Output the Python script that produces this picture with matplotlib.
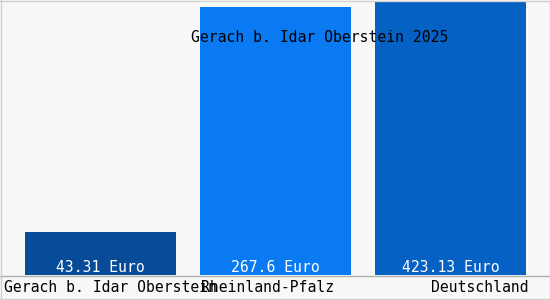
import matplotlib
matplotlib.use("Agg")
import matplotlib.pyplot as plt
import matplotlib.transforms as mtransforms

categories = ["Gerach b. Idar Oberstein", "Rheinland-Pfalz", "Deutschland"]
values = [43.31, 267.6, 423.13]
value_labels = ["43.31 Euro", "267.6 Euro", "423.13 Euro"]
title = "Gerach b. Idar Oberstein 2025"
colors = ["#084c99", "#0a7af2", "#0561c4"]

W, H = 550, 300
fig = plt.figure(figsize=(W / 100, H / 100), dpi=100)
bg = "#f8f8f8"
fig.patch.set_facecolor(bg)

ax = fig.add_axes([1 / W, 25 / H, 548 / W, 274 / H])
ax.set_facecolor(bg)
x = list(range(len(categories)))
ax.bar(x, values, width=151 / 175, color=colors, clip_on=True)
ax.set_xlim(-99.5 / 175, -99.5 / 175 + 548 / 175)
ax.set_ylim(0, 274)
ax.set_xticks([])
ax.set_yticks([])
for s in ax.spines.values():
    s.set_visible(False)

font = dict(family="DejaVu Sans Mono", fontsize=10.6)

# value labels inside bars near the bottom
trans = mtransforms.blended_transform_factory(ax.transData, fig.transFigure)
for xi, lab in zip(x, value_labels):
    ax.text(xi, (H - 268) / H, lab, transform=trans, ha="center", va="center",
            color="white", **font)

# baseline
fig.add_artist(plt.Line2D([0, 1], [(H - 275.5) / H] * 2, color="#b0b0b0", lw=1))
# borders
fig.add_artist(plt.Line2D([0, 1], [1 - 0.5 / H] * 2, color="#d0d0d0", lw=1))
fig.add_artist(plt.Line2D([0, 1], [1.5 / H] * 2, color="#d0d0d0", lw=1))
fig.add_artist(plt.Line2D([0.5 / W] * 2, [0, 1], color="#d0d0d0", lw=1))
fig.add_artist(plt.Line2D([1 - 0.5 / W] * 2, [0, 1], color="#d0d0d0", lw=1))

# category labels
ly = (H - 288) / H
fig.text(4 / W, ly, categories[0], ha="left", va="center", color="black", **font)
fig.text(201 / W, ly, categories[1], ha="left", va="center", color="black", **font)
fig.text(529 / W, ly, categories[2], ha="right", va="center", color="black", **font)

# title
fig.text(320 / W, (H - 38) / H, title, ha="center", va="center", color="black", **font)

fig.savefig("out.png", dpi=100, facecolor=bg)
